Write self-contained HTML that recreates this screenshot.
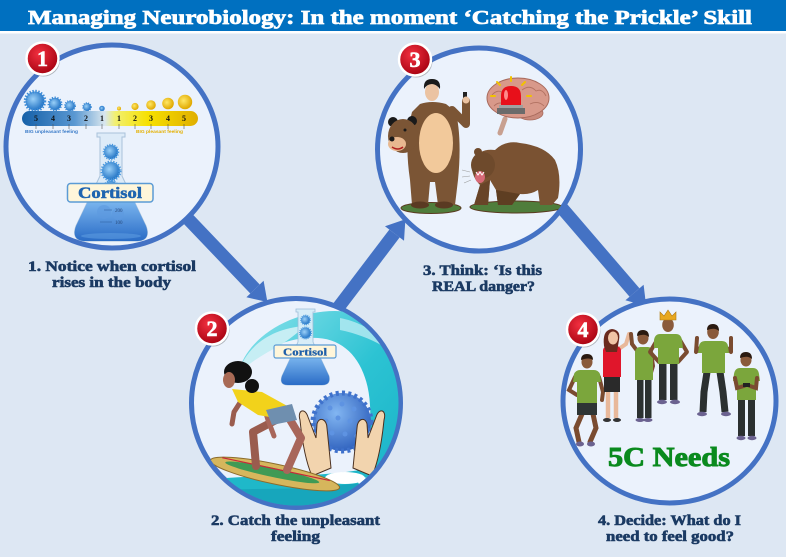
<!DOCTYPE html>
<html><head><meta charset="utf-8"><style>
html,body{margin:0;padding:0;background:#DDE7F3;}
svg{display:block;}
</style></head><body>
<svg width="786" height="557" viewBox="0 0 786 557" xmlns="http://www.w3.org/2000/svg">
<defs>
 <linearGradient id="gBar" x1="0" x2="1" y1="0" y2="0">
  <stop offset="0" stop-color="#1560A8"/><stop offset="0.3" stop-color="#5A98D2"/>
  <stop offset="0.47" stop-color="#D8E6EE"/><stop offset="0.53" stop-color="#F2F070"/>
  <stop offset="0.72" stop-color="#F6E000"/><stop offset="1" stop-color="#E0AE00"/>
 </linearGradient>
 <linearGradient id="gLiq" x1="0" x2="0" y1="0" y2="1">
  <stop offset="0" stop-color="#7DB8F0"/><stop offset="1" stop-color="#2A6CC6"/>
 </linearGradient>
 <radialGradient id="gVir" cx="0.4" cy="0.4" r="0.6">
  <stop offset="0" stop-color="#9AD0F8"/><stop offset="1" stop-color="#2273C4"/>
 </radialGradient>
 <radialGradient id="gYel" cx="0.4" cy="0.4" r="0.6">
  <stop offset="0" stop-color="#FFE866"/><stop offset="1" stop-color="#E0A800"/>
 </radialGradient>
 <radialGradient id="gBadge" cx="0.4" cy="0.35" r="0.7">
  <stop offset="0" stop-color="#F23040"/><stop offset="1" stop-color="#A3000F"/>
 </radialGradient>
 <linearGradient id="gWave" x1="0" x2="1" y1="0" y2="1">
  <stop offset="0" stop-color="#8FE3EC"/><stop offset="0.5" stop-color="#2CC3D3"/><stop offset="1" stop-color="#14AFC4"/>
 </linearGradient>
 <radialGradient id="gBall" cx="0.4" cy="0.35" r="0.7">
  <stop offset="0" stop-color="#82B6F2"/><stop offset="1" stop-color="#2D5FBC"/>
 </radialGradient>
 <clipPath id="c1"><ellipse cx="112" cy="146.5" rx="104" ry="99.5"/></clipPath>
 <clipPath id="c2"><ellipse cx="296" cy="403" rx="102.5" ry="102.5"/></clipPath>
 <clipPath id="c3"><ellipse cx="479" cy="149.5" rx="99.5" ry="99.5"/></clipPath>
 <clipPath id="c4"><ellipse cx="669.5" cy="401" rx="104.5" ry="100"/></clipPath>
</defs>

<rect width="786" height="557" fill="#DDE7F3"/>
<rect width="786" height="31" fill="#0070C0"/>
<rect y="31" width="786" height="2.5" fill="#FFFFFF"/>
<text x="28" y="24" font-family="Liberation Serif, serif" font-weight="bold" font-size="20" fill="#FFFFFF" stroke="#FFFFFF" stroke-width="0.7" textLength="724" lengthAdjust="spacingAndGlyphs">Managing Neurobiology: In the moment ‘Catching the Prickle’ Skill</text>

<!-- arrows -->
<g fill="#4472C4" stroke="none">
 <line x1="170" y1="200" x2="255" y2="289" stroke="#4472C4" stroke-width="13"/>
 <polygon points="246.4,297.3 263.6,280.7 267.4,302"/>
 <line x1="325" y1="325" x2="394.5" y2="233.5" stroke="#4472C4" stroke-width="13"/>
 <polygon points="404,240.8 385,226.2 405.4,219.2"/>
 <line x1="555" y1="200" x2="634.5" y2="292.5" stroke="#4472C4" stroke-width="13"/>
 <polygon points="625.4,300.3 643.6,284.7 646.2,306.2"/>
</g>

<!-- circles -->
<g fill="#EBF2FC" stroke="#4472C4" stroke-width="5">
 <ellipse cx="112" cy="146.5" rx="106" ry="101.5"/>
 <ellipse cx="296" cy="403" rx="104.5" ry="104.5"/>
 <ellipse cx="479" cy="149.5" rx="101.5" ry="101.5"/>
 <ellipse cx="669.5" cy="401" rx="106.5" ry="102"/>
</g>

<!-- ===== Circle 1 ===== -->
<g clip-path="url(#c1)">
 <g stroke="#3A8AD6" fill="url(#gVir)">
  <circle cx="35" cy="101" r="9.5" stroke-width="3.5" stroke-dasharray="1.3 1.5"/>
  <circle cx="55" cy="104" r="6.2" stroke-width="2.5" stroke-dasharray="1.2 1.4"/>
  <circle cx="70" cy="106" r="5" stroke-width="2" stroke-dasharray="1 1.3"/>
  <circle cx="87" cy="107" r="4" stroke-width="1.6" stroke-dasharray="1 1.2"/>
  <circle cx="102" cy="108.5" r="2.3" stroke-width="1"/>
 </g>
 <g fill="url(#gYel)">
  <circle cx="119" cy="108.5" r="2"/>
  <circle cx="135" cy="106.5" r="3.6"/>
  <circle cx="151" cy="105" r="4.8"/>
  <circle cx="168" cy="103.5" r="5.8"/>
  <circle cx="185" cy="102" r="7.2"/>
 </g>
 <rect x="22" y="111" width="176" height="15" rx="7.5" fill="url(#gBar)"/>
 <g stroke="#555" stroke-width="0.6">
  <line x1="36" y1="124" x2="36" y2="129"/><line x1="53" y1="124" x2="53" y2="129"/><line x1="69" y1="124" x2="69" y2="129"/><line x1="86" y1="124" x2="86" y2="129"/><line x1="102" y1="124" x2="102" y2="129"/>
  <line x1="119" y1="124" x2="119" y2="129"/><line x1="135" y1="124" x2="135" y2="129"/><line x1="151" y1="124" x2="151" y2="129"/><line x1="168" y1="124" x2="168" y2="129"/><line x1="184" y1="124" x2="184" y2="129"/>
 </g>
 <g font-family="Liberation Serif, serif" font-weight="bold" font-size="8" fill="#111" text-anchor="middle">
  <text x="36" y="121">5</text><text x="53" y="121">4</text><text x="69" y="121">3</text><text x="86" y="121">2</text><text x="102" y="121">1</text>
  <text x="119" y="121">1</text><text x="135" y="121">2</text><text x="151" y="121">3</text><text x="168" y="121">4</text><text x="184" y="121">5</text>
 </g>
 <text x="25" y="133" font-family="Liberation Sans, sans-serif" font-weight="bold" font-size="4.2" fill="#3A7BC8" textLength="53" lengthAdjust="spacingAndGlyphs">BIG unpleasant feeling</text>
 <text x="136" y="133" font-family="Liberation Sans, sans-serif" font-weight="bold" font-size="4.2" fill="#E4B000" textLength="47" lengthAdjust="spacingAndGlyphs">BIG pleasant feeling</text>
 <path d="M97,133 L125,133 L125,137 L122,137 L122,176 L146,226 Q151,240 138,241 L84,241 Q71,240 76,226 L100,176 L100,137 L97,137 Z" fill="#DDEBF8" stroke="#A9C2DA" stroke-width="1"/>
 <path d="M88.5,200 L133.5,200 L146,226 Q151,240 138,241 L84,241 Q71,240 76,226 Z" fill="url(#gLiq)"/>
 <ellipse cx="111" cy="236" rx="30" ry="3" fill="#5B9BE0" opacity="0.6"/>
 <g stroke="#4A98DE" fill="url(#gVir)">
  <circle cx="111" cy="152" r="7" stroke-width="2.5" stroke-dasharray="1.1 1.3"/>
  <circle cx="111" cy="171" r="9" stroke-width="3" stroke-dasharray="1.2 1.4"/>
  <circle cx="111" cy="188" r="7" stroke-width="2.5" stroke-dasharray="1.1 1.3"/>
 </g>
 <g fill="#5E9AE0" opacity="0.6"><circle cx="104" cy="212" r="7"/><circle cx="118" cy="214" r="6"/></g>
 <g stroke="#2A5A9A" stroke-width="0.6"><line x1="100" y1="222" x2="112" y2="222"/><line x1="104" y1="210" x2="112" y2="210"/></g>
 <text x="115" y="224" font-family="Liberation Serif, serif" font-size="5" fill="#2A4A7A">100</text>
 <text x="115" y="212" font-family="Liberation Serif, serif" font-size="5" fill="#2A4A7A">200</text>
 <rect x="67.5" y="183.5" width="85.5" height="18.5" rx="3" fill="#FFF6DA" stroke="#5B9BD5" stroke-width="1.5"/>
 <text x="78" y="198" font-family="Liberation Serif, serif" font-weight="bold" font-size="16" fill="#1F64B0" stroke="#1F64B0" stroke-width="0.5" textLength="64" lengthAdjust="spacingAndGlyphs">Cortisol</text>
</g>

<!-- ===== Circle 2 ===== -->
<g clip-path="url(#c2)">
 <path d="M238,374 C246,338 290,311 335,311 C380,312 410,345 412,390 L412,515 L352,515 C364,478 372,440 370,405 C368,368 350,340 318,338 C285,336 258,352 238,374 Z" fill="url(#gWave)"/>
 <path d="M238,374 C246,346 272,328 305,326 C292,338 280,346 268,352 C258,358 248,364 238,374 Z" fill="#C6EEF4"/>
 <path d="M340,318 C362,322 382,335 392,352 C378,342 360,334 340,330 Z" fill="#B8EBF2" opacity="0.8"/>
 <path d="M185,484 C230,472 300,480 360,470 L412,468 L412,520 L185,520 Z" fill="#1FB8C9"/>
 <path d="M200,492 C250,486 300,492 350,484 L412,482 L412,520 L200,520 Z" fill="#17A6BC"/>
 <path d="M296,309 L315,309 L315,312 L313,312 L313,342 L329,376 Q331,385 322,385 L288,385 Q279,385 282,376 L298,342 L298,312 L296,312 Z" fill="#D7ECF8" stroke="#9BBBD8" stroke-width="0.8" opacity="0.95"/>
 <path d="M291.5,356 L319.5,356 L329,376 Q331,385 322,385 L288,385 Q279,385 282,376 Z" fill="url(#gLiq)"/>
 <g stroke="#4A98DE" fill="url(#gVir)">
  <circle cx="305.5" cy="320" r="4.5" stroke-width="1.8" stroke-dasharray="0.9 1"/>
  <circle cx="305.5" cy="333" r="5.5" stroke-width="2" stroke-dasharray="0.9 1"/>
 </g>
 <rect x="274" y="345" width="62" height="13" rx="2" fill="#FFF6DA" stroke="#5B9BD5" stroke-width="1.2"/>
 <text x="283" y="355.5" font-family="Liberation Serif, serif" font-weight="bold" font-size="11" fill="#1F5FA8" stroke="#1F5FA8" stroke-width="0.3" textLength="44" lengthAdjust="spacingAndGlyphs">Cortisol</text>
 <circle cx="342" cy="422" r="29" fill="url(#gBall)" stroke="#3F72CC" stroke-width="5" stroke-dasharray="3 3.2"/>
 <g fill="#5E93E2">
  <circle cx="330" cy="408" r="2.5"/><circle cx="342" cy="404" r="2.5"/><circle cx="354" cy="409" r="2.5"/>
  <circle cx="326" cy="421" r="2.5"/><circle cx="338" cy="418" r="2.5"/><circle cx="350" cy="421" r="2.5"/><circle cx="361" cy="423" r="2.5"/>
  <circle cx="332" cy="433" r="2.5"/><circle cx="345" cy="434" r="2.5"/><circle cx="357" cy="436" r="2.5"/>
 </g>
 <path d="M300,420 C297,410 305,407 308,417 L316,438 L317,424 C319,416 327,419 327,428 L331,468 L312,476 C305,460 302,440 300,420 Z" fill="#F2D4AE" stroke="#4A3020" stroke-width="1"/>
 <path d="M384,420 C387,410 379,407 376,417 L368,438 L367,424 C365,416 357,419 357,428 L353,468 L372,476 C379,460 382,440 384,420 Z" fill="#F2D4AE" stroke="#4A3020" stroke-width="1"/>
 <g fill="#FFFFFF">
  <ellipse cx="345" cy="478" rx="20" ry="6"/><ellipse cx="372" cy="482" rx="14" ry="5"/><ellipse cx="325" cy="484" rx="10" ry="4"/>
 </g>
 <g transform="rotate(12 275 474)">
  <ellipse cx="275" cy="474" rx="66" ry="10" fill="#D6B65C" stroke="#8C6C2C" stroke-width="1"/>
  <ellipse cx="272" cy="473" rx="48" ry="4.5" fill="#3F9A55"/>
  <line x1="220" y1="469" x2="330" y2="469" stroke="#C8283A" stroke-width="1.2"/>
 </g>
 <g stroke-linecap="round" stroke-linejoin="round" fill="none">
  <polyline points="280,418 253,432 256,466" stroke="#9A5C4E" stroke-width="8"/>
  <polyline points="289,418 301,438 287,470" stroke="#A8665A" stroke-width="8"/>
  <polyline points="243,398 234,412 232,424" stroke="#9A5C4E" stroke-width="5"/>
  <polyline points="262,400 268,420 274,436" stroke="#A8665A" stroke-width="5"/>
 </g>
 <path d="M232,389 L262,392 L291,408 L287,420 L258,415 L238,402 Z" fill="#F2D21B"/>
 <path d="M266,410 L292,404 L297,420 L272,425 Z" fill="#6F8FAF"/>
 <ellipse cx="238" cy="372" rx="14" ry="11" fill="#111"/>
 <circle cx="252" cy="386" r="7" fill="#111"/>
 <ellipse cx="229" cy="380" rx="6" ry="8" fill="#A86A55"/>
</g>

<!-- ===== Circle 3 ===== -->
<g clip-path="url(#c3)">
 <ellipse cx="431" cy="208" rx="30" ry="5.5" fill="#4F7D3B" stroke="#5A3A20" stroke-width="1"/>
 <polyline points="452,110 466,124 466,101" fill="none" stroke="#7B5535" stroke-width="8" stroke-linecap="round" stroke-linejoin="round"/>
 <rect x="463" y="92" width="4" height="8" fill="#222"/>
 <circle cx="466" cy="100" r="3.5" fill="#EBC3A2"/>
 <path d="M420,104 Q432,100 446,104 L456,112 Q462,140 458,180 L455,205 L438,205 L435,182 L430,182 L428,205 L412,205 L410,180 Q404,140 412,112 Z" fill="#7B5535"/>
 <ellipse cx="436" cy="143" rx="17" ry="30" fill="#F2C99B"/>
 <ellipse cx="420" cy="205" rx="9" ry="3.5" fill="#5A3A22"/>
 <ellipse cx="444" cy="205" rx="9" ry="3.5" fill="#5A3A22"/>
 <ellipse cx="432" cy="92" rx="7" ry="9" fill="#EBC3A2"/>
 <path d="M424,89 Q423,79 432,79 Q441,79 440,89 Q436,84 432,84 Q427,84 424,89 Z" fill="#1A1A1A"/>
 <circle cx="393" cy="122" r="5" fill="#1A1A1A"/>
 <circle cx="412" cy="121" r="5" fill="#1A1A1A"/>
 <ellipse cx="403" cy="136" rx="15" ry="17" fill="#7B5535"/>
 <ellipse cx="397" cy="144" rx="9" ry="7" fill="#E8B890"/>
 <circle cx="392" cy="139" r="2.5" fill="#1A1A1A"/>
 <path d="M392,147 Q398,151 403,147" stroke="#B02020" stroke-width="1.5" fill="none"/>
 <circle cx="405" cy="130" r="1.5" fill="#1A1A1A"/>
 <path d="M505,119 L500,133" stroke="#C8A090" stroke-width="5" stroke-linecap="round"/>
 <ellipse cx="530" cy="113" rx="13" ry="7" fill="#C98A7C" stroke="#A86A5C" stroke-width="0.8"/>
 <ellipse cx="518" cy="98" rx="31" ry="20" fill="#D8998A" stroke="#A86A5C" stroke-width="1"/>
 <g fill="none" stroke="#B27262" stroke-width="0.9">
  <path d="M492,95 Q498,88 504,94 Q510,86 516,93"/><path d="M522,90 Q530,84 536,91 Q542,88 546,96"/>
  <path d="M494,106 Q500,100 506,106"/><path d="M530,104 Q538,100 544,106"/>
 </g>
 <path d="M501,106 L501,96 Q501,86 511,86 Q521,86 521,96 L521,106 Z" fill="#E8101A"/>
 <ellipse cx="506" cy="95" rx="2" ry="5" fill="#FF8A8A"/>
 <rect x="499" y="105" width="24" height="3" fill="#A0A0A0"/>
 <rect x="497" y="108" width="28" height="6" fill="#6B6B6B"/>
 <g stroke="#F2C200" stroke-width="2" stroke-linecap="round">
  <line x1="511" y1="81" x2="511" y2="77"/><line x1="500" y1="85" x2="497" y2="82"/><line x1="522" y1="85" x2="525" y2="82"/>
  <line x1="495" y1="96" x2="491" y2="96"/><line x1="527" y1="96" x2="531" y2="96"/>
 </g>
 <ellipse cx="516" cy="207" rx="46" ry="6" fill="#4F7D3B" stroke="#5A3A20" stroke-width="1"/>
 <path d="M472,160 Q480,148 495,150 Q505,140 520,143 Q545,146 555,160 Q562,175 558,198 L552,205 L540,205 L538,190 Q530,195 520,194 L512,205 L498,205 L496,190 L490,180 L488,205 L474,205 L480,185 Q470,175 472,160 Z" fill="#7A5232"/>
 <path d="M520,194 L512,205 L498,205 L496,190 Z" fill="#5E3E22"/>
 <path d="M490,180 L488,205 L474,205 L480,185 Z" fill="#684428"/>
 <circle cx="478" cy="152" r="4" fill="#6E4A2C"/>
 <ellipse cx="483" cy="165" rx="12" ry="13" fill="#6E4A2C"/>
 <ellipse cx="480" cy="177" rx="5" ry="6" fill="#D86A78"/>
 <path d="M476,172 L478,175 L480,172 L482,175 L484,172" stroke="#FFF" stroke-width="1" fill="none"/>
 <g stroke="#9A9A9A" stroke-width="0.6"><line x1="462" y1="170" x2="470" y2="172"/><line x1="462" y1="177" x2="470" y2="176"/><line x1="464" y1="183" x2="471" y2="180"/></g>
</g>

<!-- ===== Circle 4 ===== -->
<g clip-path="url(#c4)">
 <g>
  <polyline points="582,414 576,428 579,442" stroke="#7A4B30" stroke-width="5" fill="none" stroke-linecap="round"/>
  <polyline points="593,414 596,428 590,442" stroke="#7A4B30" stroke-width="5" fill="none" stroke-linecap="round"/>
  <ellipse cx="580" cy="444" rx="4" ry="2.5" fill="#6B6290"/><ellipse cx="591" cy="444" rx="4" ry="2.5" fill="#6B6290"/>
  <rect x="577" y="401" width="20" height="14" fill="#2E3535"/>
  <polyline points="575,377 569,390 577,395" stroke="#7A4B30" stroke-width="4" fill="none" stroke-linecap="round"/>
  <polyline points="599,377 603,392 602,400" stroke="#7A4B30" stroke-width="4" fill="none" stroke-linecap="round"/>
  <path d="M574,374 Q576,370 580,370 L594,370 Q598,370 600,374 L601,382 L597,382 L597,403 L577,403 L577,382 L573,382 Z" fill="#7BA63C"/>
  <ellipse cx="587" cy="362" rx="5.5" ry="6.5" fill="#8A5A3B"/>
  <path d="M581,360 Q581,354 587,354 Q593,354 593,360 Q589,357 581,360 Z" fill="#2A1A10"/>
 </g>
 <g>
  <line x1="608" y1="391" x2="608" y2="418" stroke="#E8B89A" stroke-width="4.5"/>
  <line x1="616" y1="391" x2="616" y2="418" stroke="#E8B89A" stroke-width="4.5"/>
  <ellipse cx="607" cy="420" rx="4" ry="2" fill="#333"/><ellipse cx="617" cy="420" rx="4" ry="2" fill="#333"/>
  <rect x="604" y="375" width="16" height="17" fill="#2A2A2A"/>
  <polyline points="616,351 626,344 629,334" stroke="#E8B89A" stroke-width="4" fill="none" stroke-linecap="round"/>
  <path d="M603,350 Q604,346 608,346 L616,346 Q620,346 621,350 L621,377 L603,377 Z" fill="#E0162B"/>
  <path d="M604,346 Q602,330 612,329 Q621,330 619,340 L617,352 L606,352 Z" fill="#6A2A1E"/>
  <ellipse cx="613" cy="338" rx="5" ry="6.5" fill="#F0C4A6"/>
 </g>
 <g>
  <rect x="637" y="378" width="6.5" height="40" fill="#2B3030"/><rect x="645" y="378" width="6.5" height="40" fill="#2B3030"/>
  <ellipse cx="640" cy="420" rx="4.5" ry="2" fill="#6B6290"/><ellipse cx="648" cy="420" rx="4.5" ry="2" fill="#6B6290"/>
  <polyline points="638,352 632,344 631,334" stroke="#7A4B30" stroke-width="4" fill="none" stroke-linecap="round"/>
  <polyline points="651,352 653,366 650,376" stroke="#7A4B30" stroke-width="4" fill="none" stroke-linecap="round"/>
  <path d="M635,352 Q636,347 640,347 L648,347 Q652,347 653,352 L653,380 L635,380 Z" fill="#7BA63C"/>
  <ellipse cx="643" cy="338" rx="5.5" ry="6.5" fill="#8A5A3B"/>
  <path d="M637,336 Q637,330 643,330 Q649,330 649,337 Q645,333 637,336 Z" fill="#2A1A10"/>
 </g>
 <g>
  <rect x="659" y="362" width="7.5" height="38" fill="#2B3030"/><rect x="670" y="362" width="7.5" height="38" fill="#2B3030"/>
  <ellipse cx="662" cy="402" rx="5" ry="2.2" fill="#6B6290"/><ellipse cx="675" cy="402" rx="5" ry="2.2" fill="#6B6290"/>
  <polyline points="657,340 650,352 659,362" stroke="#7A4B30" stroke-width="4" fill="none" stroke-linecap="round" stroke-linejoin="round"/>
  <polyline points="680,340 687,352 678,362" stroke="#7A4B30" stroke-width="4" fill="none" stroke-linecap="round" stroke-linejoin="round"/>
  <path d="M654,340 Q655,334 660,334 L676,334 Q681,334 682,340 L683,348 L679,348 L679,364 L658,364 L658,348 L654,348 Z" fill="#7BA63C"/>
  <ellipse cx="668" cy="325" rx="5.8" ry="7" fill="#8A5A3B"/>
  <path d="M660,320 L660,312 L664,316 L668,310 L672,316 L676,312 L676,320 Z" fill="#E8A820" stroke="#B07810" stroke-width="0.6"/>
 </g>
 <g>
  <polyline points="707,372 704,392 703,412" stroke="#2B3030" stroke-width="7" fill="none"/>
  <polyline points="720,372 723,392 725,412" stroke="#2B3030" stroke-width="7" fill="none"/>
  <ellipse cx="702" cy="414" rx="5" ry="2.2" fill="#6B6290"/><ellipse cx="726" cy="414" rx="5" ry="2.2" fill="#6B6290"/>
  <polyline points="702,346 696,352 697,338" stroke="#7A4B30" stroke-width="4" fill="none" stroke-linecap="round" stroke-linejoin="round"/>
  <polyline points="725,346 731,352 731,338" stroke="#7A4B30" stroke-width="4" fill="none" stroke-linecap="round" stroke-linejoin="round"/>
  <path d="M699,346 Q700,341 705,341 L722,341 Q727,341 728,346 L729,353 L725,353 L725,373 L702,373 L702,353 L698,353 Z" fill="#7BA63C"/>
  <ellipse cx="713" cy="332" rx="5.8" ry="7" fill="#8A5A3B"/>
  <path d="M707,330 Q707,324 713,324 Q719,324 719,331 Q715,327 707,330 Z" fill="#2A1A10"/>
 </g>
 <g>
  <rect x="738" y="398" width="7" height="38" fill="#2B3030"/><rect x="748" y="398" width="7" height="38" fill="#2B3030"/>
  <ellipse cx="741" cy="438" rx="4.5" ry="2.2" fill="#6B6290"/><ellipse cx="752" cy="438" rx="4.5" ry="2.2" fill="#6B6290"/>
  <path d="M734,374 Q735,368 740,368 L753,368 Q758,368 759,374 L760,381 L756,381 L756,400 L737,400 L737,381 L733,381 Z" fill="#7BA63C"/>
  <polyline points="735,378 737,388 744,386" stroke="#7A4B30" stroke-width="4" fill="none" stroke-linecap="round"/>
  <polyline points="757,378 756,388 750,386" stroke="#7A4B30" stroke-width="4" fill="none" stroke-linecap="round"/>
  <rect x="743" y="383" width="7" height="4" fill="#222"/>
  <ellipse cx="746" cy="360" rx="5.5" ry="6.5" fill="#8A5A3B"/>
  <path d="M740,358 Q740,352 746,352 Q752,352 752,359 Q748,355 740,358 Z" fill="#2A1A10"/>
 </g>
 <text x="608" y="466" font-family="Liberation Serif, serif" font-weight="bold" font-size="27" fill="#0A8A1E" stroke="#0A8A1E" stroke-width="0.9" textLength="122" lengthAdjust="spacingAndGlyphs">5C Needs</text>
</g>

<!-- badges -->
<g>
 <circle cx="43.5" cy="60" r="16.5" fill="rgba(0,0,0,0.25)"/>
 <circle cx="42.5" cy="58.5" r="16" fill="url(#gBadge)" stroke="#FFFFFF" stroke-width="2.5"/>
 <circle cx="213" cy="330" r="16.5" fill="rgba(0,0,0,0.25)"/>
 <circle cx="212" cy="328.5" r="16" fill="url(#gBadge)" stroke="#FFFFFF" stroke-width="2.5"/>
 <circle cx="416" cy="61" r="16.5" fill="rgba(0,0,0,0.25)"/>
 <circle cx="415" cy="59.5" r="16" fill="url(#gBadge)" stroke="#FFFFFF" stroke-width="2.5"/>
 <circle cx="584" cy="331" r="16.5" fill="rgba(0,0,0,0.25)"/>
 <circle cx="583" cy="329.5" r="16" fill="url(#gBadge)" stroke="#FFFFFF" stroke-width="2.5"/>
 <g font-family="Liberation Serif, serif" font-weight="bold" font-size="22" fill="#FFFFFF" stroke="#FFFFFF" stroke-width="0.6" text-anchor="middle">
  <text x="42.5" y="66">1</text>
  <text x="212" y="336">2</text>
  <text x="415" y="67">3</text>
  <text x="583" y="337">4</text>
 </g>
</g>

<!-- labels -->
<g font-family="Liberation Serif, serif" font-weight="bold" font-size="15" fill="#1B3A63" stroke="#1B3A63" stroke-width="0.6">
 <text x="28" y="271" textLength="168" lengthAdjust="spacingAndGlyphs">1. Notice when cortisol</text>
 <text x="52" y="287" textLength="119" lengthAdjust="spacingAndGlyphs">rises in the body</text>
 <text x="211" y="525" textLength="169" lengthAdjust="spacingAndGlyphs">2. Catch the unpleasant</text>
 <text x="271" y="541" textLength="49" lengthAdjust="spacingAndGlyphs">feeling</text>
 <text x="423" y="275" textLength="119" lengthAdjust="spacingAndGlyphs">3. Think: ‘Is this</text>
 <text x="432" y="291" textLength="103" lengthAdjust="spacingAndGlyphs">REAL danger?</text>
 <text x="598" y="525" textLength="143" lengthAdjust="spacingAndGlyphs">4. Decide: What do I</text>
 <text x="606" y="541" textLength="128" lengthAdjust="spacingAndGlyphs">need to feel good?</text>
</g>
</svg>
</body></html>
